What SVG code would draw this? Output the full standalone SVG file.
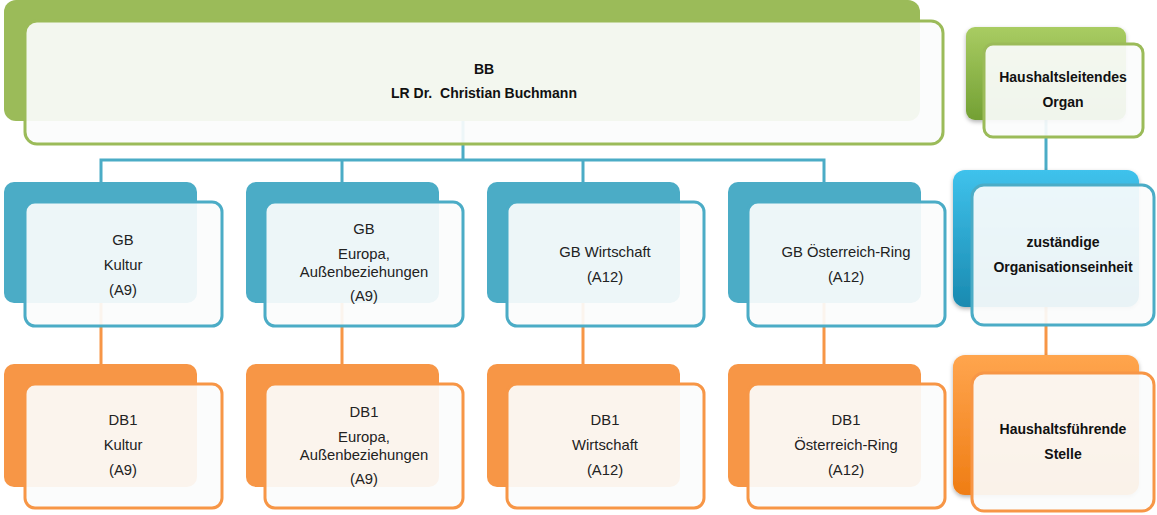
<svg xmlns="http://www.w3.org/2000/svg" width="1157" height="515" viewBox="0 0 1157 515">
<style>
.t{font-family:"Liberation Sans",Arial,sans-serif;font-size:14.8px;fill:#222;text-anchor:middle}
.b{font-family:"Liberation Sans",Arial,sans-serif;font-size:14px;font-weight:bold;fill:#111;text-anchor:middle}
.front{fill:#fbfcfc;fill-opacity:0.92;stroke-width:3}
.g{stroke:#9bbb59}.bl{stroke:#4bacc6}.o{stroke:#f79646}
.cb{stroke:#4bacc6;stroke-width:3;fill:none}
.co{stroke:#f79646;stroke-width:3;fill:none}
</style>
<defs>
<linearGradient id="gg" x1="0" y1="0" x2="0" y2="1"><stop offset="0" stop-color="#a9cc62"/><stop offset="1" stop-color="#73a034"/></linearGradient>
<linearGradient id="gb" x1="0" y1="0" x2="0" y2="1"><stop offset="0" stop-color="#3fc2ec"/><stop offset="1" stop-color="#1a8ab0"/></linearGradient>
<linearGradient id="go" x1="0" y1="0" x2="0" y2="1"><stop offset="0" stop-color="#ffa54e"/><stop offset="1" stop-color="#ef7d14"/></linearGradient>
<filter id="sh" x="-10%" y="-10%" width="120%" height="125%"><feDropShadow dx="0" dy="2" stdDeviation="2" flood-color="#000" flood-opacity="0.3"/></filter>
</defs>
<g id="connectors">
<path class="cb" d="M463 121V160M101 182V160H824V182M342 160V182M583 160V182"/>
<path class="co" d="M101 303V364M342 303V364M583 303V364M824 303V364"/>
<path class="cb" d="M1046 120V170"/>
<path class="co" d="M1046 307V355"/>
</g>
<g id="bb">
<rect x="4" y="0" width="916" height="121" rx="12" fill="#9bbb59"/>
<rect class="front g" x="25" y="21" width="918" height="123" rx="12"/>
<text class="b" x="484" y="74">BB</text>
<text class="b" x="484" y="98" xml:space="preserve">LR Dr.  Christian Buchmann</text>
</g>
<g id="gb-kultur">
<rect x="4" y="182" width="193" height="121" rx="10" fill="#4bacc6"/>
<rect class="front bl" x="25" y="202" width="197" height="124" rx="10"/>
<text class="t" x="123" y="245">GB</text>
<text class="t" x="123" y="270">Kultur</text>
<text class="t" x="123" y="295">(A9)</text>
</g>
<g id="gb-europa">
<rect x="246" y="182" width="193" height="121" rx="10" fill="#4bacc6"/>
<rect class="front bl" x="265" y="202" width="198" height="124" rx="10"/>
<text class="t" x="364" y="234">GB</text>
<text class="t" x="364" y="259">Europa,</text>
<text class="t" x="364" y="277">Außenbeziehungen</text>
<text class="t" x="364" y="301">(A9)</text>
</g>
<g id="gb-wirtschaft">
<rect x="487" y="182" width="193" height="121" rx="10" fill="#4bacc6"/>
<rect class="front bl" x="507" y="202" width="197" height="124" rx="10"/>
<text class="t" x="605" y="257">GB Wirtschaft</text>
<text class="t" x="605" y="282">(A12)</text>
</g>
<g id="gb-oesterreich">
<rect x="728" y="182" width="193" height="121" rx="10" fill="#4bacc6"/>
<rect class="front bl" x="748" y="202" width="197" height="124" rx="10"/>
<text class="t" x="846" y="257">GB Österreich-Ring</text>
<text class="t" x="846" y="282">(A12)</text>
</g>
<g id="db-kultur">
<rect x="4" y="364" width="193" height="123" rx="10" fill="#f79646"/>
<rect class="front o" x="25" y="384" width="197" height="124" rx="10"/>
<text class="t" x="123" y="425">DB1</text>
<text class="t" x="123" y="450">Kultur</text>
<text class="t" x="123" y="475">(A9)</text>
</g>
<g id="db-europa">
<rect x="246" y="364" width="193" height="123" rx="10" fill="#f79646"/>
<rect class="front o" x="265" y="384" width="198" height="124" rx="10"/>
<text class="t" x="364" y="417">DB1</text>
<text class="t" x="364" y="442">Europa,</text>
<text class="t" x="364" y="460">Außenbeziehungen</text>
<text class="t" x="364" y="484">(A9)</text>
</g>
<g id="db-wirtschaft">
<rect x="487" y="364" width="193" height="123" rx="10" fill="#f79646"/>
<rect class="front o" x="507" y="384" width="197" height="124" rx="10"/>
<text class="t" x="605" y="425">DB1</text>
<text class="t" x="605" y="450">Wirtschaft</text>
<text class="t" x="605" y="475">(A12)</text>
</g>
<g id="db-oesterreich">
<rect x="728" y="364" width="193" height="123" rx="10" fill="#f79646"/>
<rect class="front o" x="748" y="384" width="197" height="124" rx="10"/>
<text class="t" x="846" y="425">DB1</text>
<text class="t" x="846" y="450">Österreich-Ring</text>
<text class="t" x="846" y="475">(A12)</text>
</g>
<g id="legend-organ">
<rect x="966" y="27" width="160" height="93" rx="9" fill="url(#gg)" filter="url(#sh)"/>
<rect class="front g" x="984" y="44" width="159" height="93" rx="9"/>
<text class="b" x="1063" y="82">Haushaltsleitendes</text>
<text class="b" x="1063" y="107">Organ</text>
</g>
<g id="legend-oe">
<rect x="953" y="170" width="186" height="137" rx="12" fill="url(#gb)" filter="url(#sh)"/>
<rect class="front bl" x="972" y="185" width="182" height="140" rx="12"/>
<text class="b" x="1063" y="247">zuständige</text>
<text class="b" x="1063" y="272">Organisationseinheit</text>
</g>
<g id="legend-stelle">
<rect x="953" y="355" width="186" height="140" rx="12" fill="url(#go)" filter="url(#sh)"/>
<rect class="front o" x="972" y="373" width="182" height="138" rx="12"/>
<text class="b" x="1063" y="434">Haushaltsführende</text>
<text class="b" x="1063" y="459">Stelle</text>
</g>
</svg>
